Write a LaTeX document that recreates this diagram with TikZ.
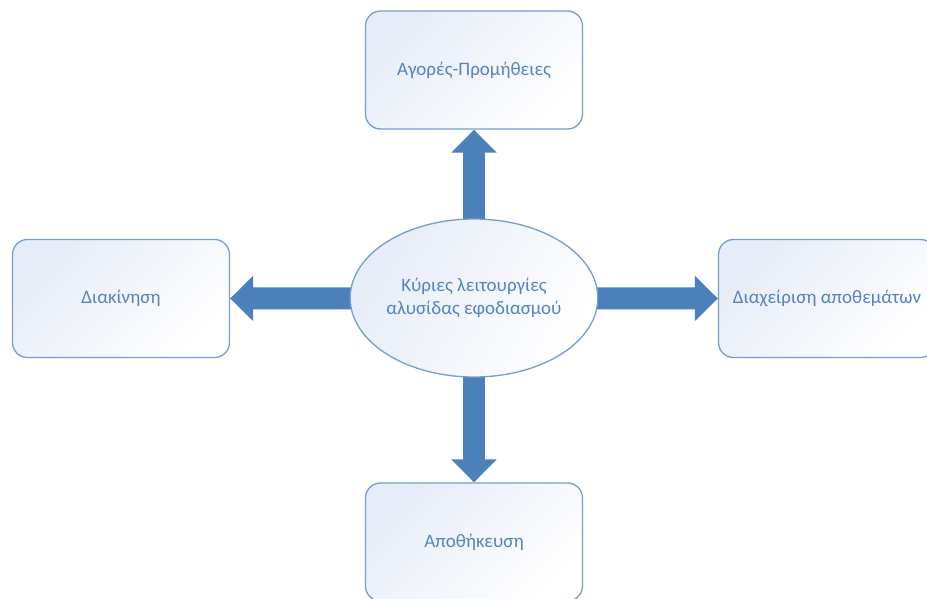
\documentclass[tikz,border=0pt]{standalone}
\usepackage{fontspec}
\setmainfont{Carlito}
\usetikzlibrary{shapes.geometric,arrows.meta,backgrounds}
\definecolor{txtblue}{RGB}{84,133,192}
\definecolor{arrblue}{RGB}{76,128,187}
\definecolor{edgeblue}{RGB}{118,158,206}
\definecolor{shadeblue}{RGB}{230,236,248}
\begin{document}
\begin{tikzpicture}[x=1pt,y=-1pt,
  box/.style={draw=edgeblue, line width=1.3pt, rounded corners=15pt,
    minimum width=217pt, minimum height=118pt, inner sep=0pt,
    top color=shadeblue, bottom color=white, shading angle=45,
    text=txtblue, font=\fontsize{19}{23}\selectfont, align=center},
  hub/.style={ellipse, draw=edgeblue, line width=1.3pt,
    minimum width=244pt, minimum height=158pt, inner sep=0pt,
    top color=shadeblue, bottom color=white, shading angle=60,
    text=txtblue, font=\fontsize{19}{23}\selectfont, align=center},
  fatarrow/.style={draw=arrblue, line width=22pt,
    -{Triangle[width=44pt,length=23pt]}, arrblue}
]
\useasboundingbox (0,0) rectangle (927,598);
\clip (0,0) rectangle (927,598);

\node[box] (top) at (474,70) {Αγορές-Προμήθειες};
\node[box] (left) at (121,298.5) {Διακίνηση};
\node[box] (right) at (827,298.5) {Διαχείριση αποθεμάτων};
\node[box] (bottom) at (474,542) {Αποθήκευση};
\node[hub] (hub) at (474,298) {Κύριες λειτουργίες\\αλυσίδας εφοδιασμού};

\begin{scope}[on background layer]
  \fill[white] (0,0) rectangle (927,598);
  \draw[fatarrow] (hub.center) -- (top.south);
  \draw[fatarrow] (hub.center) -- (bottom.north);
  \draw[fatarrow] (hub.center) -- (left.east);
  \draw[fatarrow] (hub.center) -- (right.west);
\end{scope}
\end{tikzpicture}
\end{document}
